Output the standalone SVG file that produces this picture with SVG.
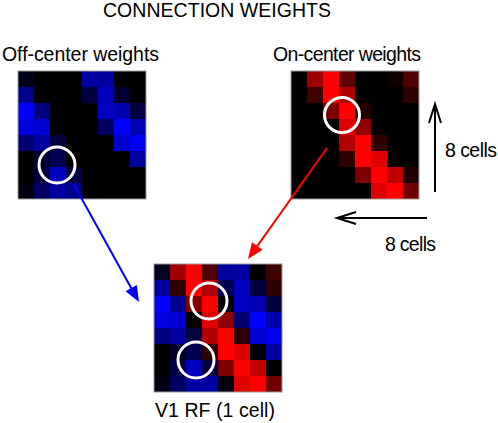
<svg xmlns="http://www.w3.org/2000/svg" width="498" height="423" viewBox="0 0 498 423">
<style>
text{font-family:"Liberation Sans",Arial,sans-serif;font-size:19.5px;fill:#000}
.ring{fill:none;stroke:#fff;stroke-width:3}
.frame{fill:none;stroke:#9a9a9a;stroke-width:1}
.k{fill:#000}
</style>
<defs>
<marker id="hb" markerUnits="userSpaceOnUse" markerWidth="18" markerHeight="14" refX="1" refY="7" orient="auto" overflow="visible"><path d="M0,0.5 L16,7 L0,13.5 z" fill="#0000ff"/></marker>
<marker id="hr" markerUnits="userSpaceOnUse" markerWidth="18" markerHeight="14" refX="1" refY="7" orient="auto" overflow="visible"><path d="M0,0.5 L16,7 L0,13.5 z" fill="#ff0000"/></marker>
<marker id="ho" markerUnits="userSpaceOnUse" markerWidth="22" markerHeight="14" refX="20" refY="7" orient="auto" overflow="visible"><path d="M1,1 L20,7 L1,13" fill="none" stroke="#000" stroke-width="2"/></marker>
</defs>
<rect width="498" height="423" fill="#fff"/>
<text x="103" y="17" textLength="228">CONNECTION WEIGHTS</text>
<g id="off-center">
<text x="2" y="61" textLength="157">Off-center weights</text>
<g transform="translate(18,71)">
<rect class="k" width="128" height="128"/>
<rect x="0" y="0" width="16" height="16" fill="#000018"/><rect x="64" y="0" width="16" height="16" fill="#0000a0"/><rect x="80" y="0" width="16" height="16" fill="#0000a0"/>
<rect x="0" y="16" width="16" height="16" fill="#000090"/><rect x="64" y="16" width="16" height="16" fill="#000040"/><rect x="80" y="16" width="16" height="16" fill="#0000c0"/><rect x="96" y="16" width="16" height="16" fill="#000030"/>
<rect x="0" y="32" width="16" height="16" fill="#0000ff"/><rect x="16" y="32" width="16" height="16" fill="#000080"/><rect x="80" y="32" width="16" height="16" fill="#0000c0"/><rect x="96" y="32" width="16" height="16" fill="#0000b0"/><rect x="112" y="32" width="16" height="16" fill="#000040"/>
<rect x="0" y="48" width="16" height="16" fill="#0000e0"/><rect x="16" y="48" width="16" height="16" fill="#0000d0"/><rect x="80" y="48" width="16" height="16" fill="#000060"/><rect x="96" y="48" width="16" height="16" fill="#0000ff"/><rect x="112" y="48" width="16" height="16" fill="#0000b0"/>
<rect x="0" y="64" width="16" height="16" fill="#000070"/><rect x="16" y="64" width="16" height="16" fill="#0000a0"/><rect x="32" y="64" width="16" height="16" fill="#000040"/><rect x="96" y="64" width="16" height="16" fill="#0000d0"/><rect x="112" y="64" width="16" height="16" fill="#0000f0"/>
<rect x="16" y="80" width="16" height="16" fill="#000030"/><rect x="32" y="80" width="16" height="16" fill="#000050"/><rect x="112" y="80" width="16" height="16" fill="#0000a0"/>
<rect x="16" y="96" width="16" height="16" fill="#000040"/><rect x="32" y="96" width="16" height="16" fill="#0000c0"/><rect x="48" y="96" width="16" height="16" fill="#000040"/>
<rect x="0" y="112" width="16" height="16" fill="#000010"/><rect x="16" y="112" width="16" height="16" fill="#000060"/><rect x="32" y="112" width="16" height="16" fill="#0000a0"/><rect x="48" y="112" width="16" height="16" fill="#000090"/>
<rect class="frame" width="128" height="128"/>
<circle class="ring" cx="39" cy="94" r="18"/>
</g>
</g>
<g id="on-center">
<text x="273" y="61" textLength="148">On-center weights</text>
<g transform="translate(291,71)">
<rect class="k" width="128" height="128"/>
<rect x="16" y="0" width="16" height="16" fill="#a00000"/><rect x="32" y="0" width="16" height="16" fill="#ff0000"/><rect x="48" y="0" width="16" height="16" fill="#600000"/><rect x="96" y="0" width="16" height="16" fill="#100000"/><rect x="112" y="0" width="16" height="16" fill="#500000"/>
<rect x="16" y="16" width="16" height="16" fill="#400000"/><rect x="32" y="16" width="16" height="16" fill="#ff0000"/><rect x="48" y="16" width="16" height="16" fill="#b00000"/><rect x="112" y="16" width="16" height="16" fill="#300000"/>
<rect x="32" y="32" width="16" height="16" fill="#800000"/><rect x="48" y="32" width="16" height="16" fill="#ff0000"/><rect x="64" y="32" width="16" height="16" fill="#200000"/>
<rect x="48" y="48" width="16" height="16" fill="#e00000"/><rect x="64" y="48" width="16" height="16" fill="#900000"/>
<rect x="48" y="64" width="16" height="16" fill="#b00000"/><rect x="64" y="64" width="16" height="16" fill="#ff0000"/><rect x="80" y="64" width="16" height="16" fill="#300000"/>
<rect x="48" y="80" width="16" height="16" fill="#300000"/><rect x="64" y="80" width="16" height="16" fill="#ff0000"/><rect x="80" y="80" width="16" height="16" fill="#e00000"/>
<rect x="64" y="96" width="16" height="16" fill="#800000"/><rect x="80" y="96" width="16" height="16" fill="#ff0000"/><rect x="96" y="96" width="16" height="16" fill="#c00000"/><rect x="112" y="96" width="16" height="16" fill="#200000"/>
<rect x="80" y="112" width="16" height="16" fill="#e00000"/><rect x="96" y="112" width="16" height="16" fill="#ff0000"/><rect x="112" y="112" width="16" height="16" fill="#700000"/>
<rect class="frame" width="128" height="128"/>
<circle class="ring" cx="51" cy="44" r="17.5"/>
</g>
</g>
<g id="v1-rf">
<g transform="translate(154,264)">
<rect class="k" width="128" height="128"/>
<rect x="0" y="0" width="16" height="16" fill="#000020"/><rect x="16" y="0" width="16" height="16" fill="#a00000"/><rect x="32" y="0" width="16" height="16" fill="#ff0000"/><rect x="48" y="0" width="16" height="16" fill="#500000"/><rect x="64" y="0" width="16" height="16" fill="#0000a0"/><rect x="80" y="0" width="16" height="16" fill="#0000a0"/><rect x="112" y="0" width="16" height="16" fill="#400000"/>
<rect x="0" y="16" width="16" height="16" fill="#0000a0"/><rect x="16" y="16" width="16" height="16" fill="#300000"/><rect x="32" y="16" width="16" height="16" fill="#ff0000"/><rect x="48" y="16" width="16" height="16" fill="#b00000"/><rect x="64" y="16" width="16" height="16" fill="#000050"/><rect x="80" y="16" width="16" height="16" fill="#0000c0"/><rect x="96" y="16" width="16" height="16" fill="#000040"/><rect x="112" y="16" width="16" height="16" fill="#300000"/>
<rect x="0" y="32" width="16" height="16" fill="#0000ff"/><rect x="16" y="32" width="16" height="16" fill="#000090"/><rect x="32" y="32" width="16" height="16" fill="#800000"/><rect x="48" y="32" width="16" height="16" fill="#ff0000"/><rect x="80" y="32" width="16" height="16" fill="#0000c0"/><rect x="96" y="32" width="16" height="16" fill="#0000b0"/><rect x="112" y="32" width="16" height="16" fill="#000040"/>
<rect x="0" y="48" width="16" height="16" fill="#0000e0"/><rect x="16" y="48" width="16" height="16" fill="#0000d0"/><rect x="48" y="48" width="16" height="16" fill="#e00000"/><rect x="64" y="48" width="16" height="16" fill="#900000"/><rect x="80" y="48" width="16" height="16" fill="#000070"/><rect x="96" y="48" width="16" height="16" fill="#0000ff"/><rect x="112" y="48" width="16" height="16" fill="#0000b0"/>
<rect x="0" y="64" width="16" height="16" fill="#000080"/><rect x="16" y="64" width="16" height="16" fill="#0000a0"/><rect x="32" y="64" width="16" height="16" fill="#000040"/><rect x="48" y="64" width="16" height="16" fill="#b00000"/><rect x="64" y="64" width="16" height="16" fill="#ff0000"/><rect x="80" y="64" width="16" height="16" fill="#300000"/><rect x="96" y="64" width="16" height="16" fill="#0000d0"/><rect x="112" y="64" width="16" height="16" fill="#0000f0"/>
<rect x="16" y="80" width="16" height="16" fill="#000030"/><rect x="32" y="80" width="16" height="16" fill="#000050"/><rect x="48" y="80" width="16" height="16" fill="#300000"/><rect x="64" y="80" width="16" height="16" fill="#ff0000"/><rect x="80" y="80" width="16" height="16" fill="#e00000"/><rect x="112" y="80" width="16" height="16" fill="#0000a0"/>
<rect x="16" y="96" width="16" height="16" fill="#000040"/><rect x="32" y="96" width="16" height="16" fill="#0000c0"/><rect x="48" y="96" width="16" height="16" fill="#000040"/><rect x="64" y="96" width="16" height="16" fill="#800000"/><rect x="80" y="96" width="16" height="16" fill="#ff0000"/><rect x="96" y="96" width="16" height="16" fill="#c00000"/>
<rect x="0" y="112" width="16" height="16" fill="#000010"/><rect x="16" y="112" width="16" height="16" fill="#000060"/><rect x="32" y="112" width="16" height="16" fill="#0000a0"/><rect x="48" y="112" width="16" height="16" fill="#0000a0"/><rect x="64" y="112" width="16" height="16" fill="#000010"/><rect x="80" y="112" width="16" height="16" fill="#e00000"/><rect x="96" y="112" width="16" height="16" fill="#ff0000"/><rect x="112" y="112" width="16" height="16" fill="#700000"/>
<rect class="frame" width="128" height="128"/>
<circle class="ring" cx="55" cy="37" r="18"/>
<circle class="ring" cx="42" cy="96" r="18"/>
</g>
<text x="155" y="417" textLength="120">V1 RF (1 cell)</text>
</g>
<g id="connectors">
<line x1="73.6" y1="184" x2="131.7" y2="288.9" stroke="#0000ff" stroke-width="2" marker-end="url(#hb)"/>
<line x1="327" y1="148" x2="256.7" y2="246.8" stroke="#ff0000" stroke-width="2" marker-end="url(#hr)"/>
<line x1="435" y1="192" x2="435" y2="104" stroke="#000" stroke-width="2" marker-end="url(#ho)"/>
<line x1="427" y1="218" x2="337" y2="218" stroke="#000" stroke-width="2" marker-end="url(#ho)"/>
</g>
<g id="scale-labels">
<text x="445" y="157" textLength="52">8 cells</text>
<text x="385" y="251" textLength="51">8 cells</text>
</g>
</svg>
